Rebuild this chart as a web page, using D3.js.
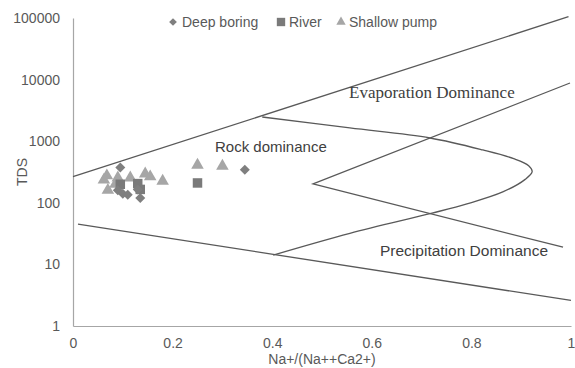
<!DOCTYPE html>
<html>
<head>
<meta charset="utf-8">
<script src="https://cdn.jsdelivr.net/npm/d3@7"></script>
<style>
  html, body { margin: 0; padding: 0; background: #fff; }
  svg { display: block; font-family: "Liberation Sans", Arial, sans-serif; }
</style>
</head>
<body>
<svg id="chart" width="575" height="368"></svg>
<script>
// Sample points: Na+/(Na+ + Ca2+) ratio and TDS (mg/L)
const deepRatio   = [0.095, 0.090, 0.100, 0.110, 0.135, 0.130, 0.345];
const deepTDS     = [375, 160, 140, 135, 120, 165, 345];
const riverRatio  = [0.095, 0.130, 0.135, 0.250];
const riverTDS    = [200, 205, 165, 210];
const shallowRatio = [0.062, 0.070, 0.068, 0.085, 0.090, 0.115, 0.145, 0.155, 0.180, 0.250, 0.300];
const shallowTDS   = [235, 160, 275, 200, 255, 255, 295, 265, 225, 410, 395];

// Gibbs diagram boundaries
const upperRatio = [0.0, 0.995];
const upperTDS   = [265, 105000];
const lowerRatio = [0.01, 1.0];
const lowerTDS   = [45, 2.6];
const curveRatio = [0.380, 0.556, 0.717, 0.823, 0.885, 0.915, 0.922, 0.908, 0.863, 0.791, 0.721, 0.556, 0.402];
const curveTDS   = [2470, 1640, 1127, 720, 520, 400, 320, 240, 150, 96, 68, 32, 14.2];
const innerRatio = [0.998, 0.482, 0.984];
const innerTDS   = [8800, 202, 19];

const xTicks = [0, 0.2, 0.4, 0.6, 0.8, 1];
const yTicks = [1, 10, 100, 1000, 10000, 100000];
const xTickLabels = ["0", "0.2", "0.4", "0.6", "0.8", "1"];

const svg = d3.select("#chart");
const x = d3.scaleLinear().domain([0, 1]).range([73, 571]);
const y = d3.scaleLog().domain([1, 100000]).range([326, 18]);

const axisColor = "#a6a6a6";
const textColor = "#595959";
const lineColor = "#595959";
const sans = "'Liberation Sans', Arial, sans-serif";
const serif = "'Liberation Serif', 'Times New Roman', serif";

// Axes
const xAxis = svg.append("g").attr("transform", "translate(0,326)")
  .call(d3.axisBottom(x).tickValues(xTicks).tickFormat((d, i) => xTickLabels[i])
    .tickSize(0).tickPadding(12));
const yAxis = svg.append("g").attr("transform", "translate(73,0)")
  .call(d3.axisLeft(y).tickValues(yTicks).tickFormat(d3.format("d"))
    .tickSize(0).tickPadding(13));
[xAxis, yAxis].forEach(g => {
  g.select(".domain").attr("stroke", axisColor).attr("stroke-width", 1.2);
  g.selectAll("text").attr("fill", textColor).style("font-size", "14px").style("font-family", sans);
});

// Axis titles
svg.append("text").attr("x", 322).attr("y", 364).attr("text-anchor", "middle")
  .style("font-size", "14px").style("font-family", sans).attr("fill", textColor).text("Na+/(Na++Ca2+)");
svg.append("text").attr("transform", "translate(27,172) rotate(-90)")
  .attr("text-anchor", "middle").style("font-size", "14px").style("font-family", sans)
  .attr("fill", textColor).text("TDS");

// Boundary lines
const straight = d3.line().x(d => x(d[0])).y(d => y(d[1]));
const smooth = d3.line().x(d => x(d[0])).y(d => y(d[1])).curve(d3.curveCatmullRom.alpha(0.5));
const zip = (a, b) => a.map((v, i) => [v, b[i]]);

const bounds = svg.append("g").attr("fill", "none").attr("stroke", lineColor).attr("stroke-width", 1.3);
bounds.append("path").attr("d", straight(zip(upperRatio, upperTDS)));
bounds.append("path").attr("d", straight(zip(lowerRatio, lowerTDS)));
bounds.append("path").attr("d", straight(zip(innerRatio, innerTDS)));
bounds.append("path").attr("d", smooth(zip(curveRatio, curveTDS)));

// Region labels
svg.append("text").attr("x", 349).attr("y", 98)
  .style("font-size", "17px").style("font-family", serif).attr("fill", "#404040")
  .text("Evaporation Dominance");
svg.append("text").attr("x", 215).attr("y", 152)
  .style("font-size", "15px").style("font-family", sans).attr("fill", "#404040").text("Rock dominance");
svg.append("text").attr("x", 380).attr("y", 256)
  .style("font-size", "15.5px").style("font-family", sans).attr("fill", "#404040").text("Precipitation Dominance");

// Markers
const series = [
  { name: "Deep boring", xs: deepRatio, ys: deepTDS, type: d3.symbolSquare, size: 50, rot: 45, color: "#7f7f7f", lsize: 30 },
  { name: "River", xs: riverRatio, ys: riverTDS, type: d3.symbolSquare, size: 90, rot: 0, color: "#7a7a7a", lsize: 70 },
  { name: "Shallow pump", xs: shallowRatio, ys: shallowTDS, type: d3.symbolTriangle, size: 68, rot: 0, color: "#a6a6a6", lsize: 38 }
];

// Draw deep boring on top of the other series
[series[2], series[1], series[0]].forEach(s => {
  svg.append("g").selectAll("path").data(zip(s.xs, s.ys)).join("path")
    .attr("d", d3.symbol().type(s.type).size(s.size))
    .attr("transform", d => `translate(${x(d[0])},${y(d[1])}) rotate(${s.rot})`)
    .attr("fill", s.color);
});

// Legend
const legendPos = [{ mx: 173, tx: 182 }, { mx: 281, tx: 289 }, { mx: 341, tx: 349 }];
const legend = svg.append("g");
series.forEach((s, i) => {
  legend.append("path")
    .attr("d", d3.symbol().type(s.type).size(s.lsize))
    .attr("transform", `translate(${legendPos[i].mx},22) rotate(${s.rot})`)
    .attr("fill", s.color);
  legend.append("text").attr("x", legendPos[i].tx).attr("y", 27)
    .style("font-size", "14px").style("font-family", sans).attr("fill", textColor).text(s.name);
});
</script>
</body>
</html>
